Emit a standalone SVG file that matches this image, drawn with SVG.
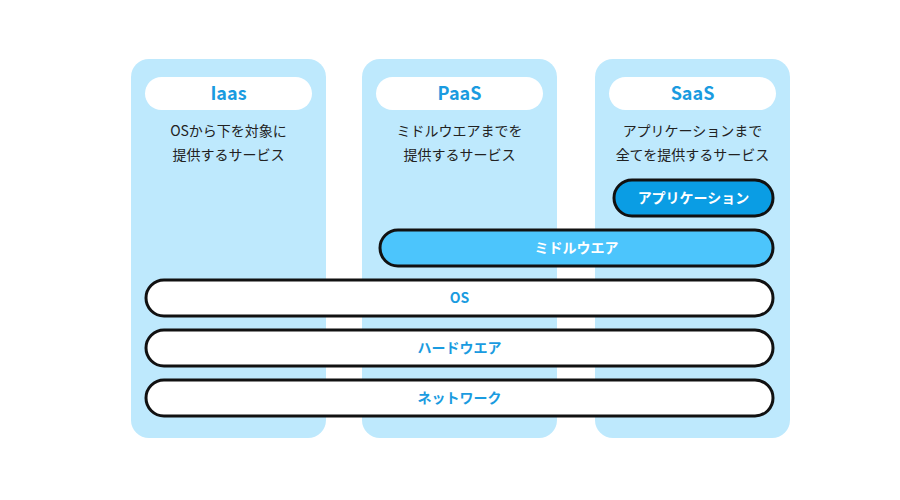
<svg xmlns="http://www.w3.org/2000/svg" width="900" height="500" viewBox="0 0 900 500">
<style>
.panel{fill:#bee9fd}
.pill{fill:#fff}
.title{font-family:"Noto Sans CJK JP","Noto Sans",sans-serif;font-weight:bold;font-size:18px;fill:#1a9be0;text-anchor:middle}
.desc{font-family:"Noto Sans CJK JP",sans-serif;font-size:14px;fill:#222;text-anchor:middle}
.bar{stroke:#111;stroke-width:3}
.lbl{font-family:"Noto Sans CJK JP",sans-serif;font-weight:bold;font-size:14px;text-anchor:middle}
</style>
<rect width="900" height="500" fill="#fff"/>
<g id="iaas"><rect class="panel" x="131" y="59" width="195" height="379" rx="18"/><rect class="pill" x="145" y="77" width="167" height="33" rx="16.5"/><text class="title" x="228.5" y="100">Iaas</text><text class="desc" x="228.5" y="136">OSから下を対象に</text><text class="desc" x="228.5" y="160">提供するサービス</text></g>
<g id="paas"><rect class="panel" x="362" y="59" width="195" height="379" rx="18"/><rect class="pill" x="376" y="77" width="167" height="33" rx="16.5"/><text class="title" x="459.5" y="100">PaaS</text><text class="desc" x="459.5" y="136">ミドルウエアまでを</text><text class="desc" x="459.5" y="160">提供するサービス</text></g>
<g id="saas"><rect class="panel" x="595" y="59" width="195" height="379" rx="18"/><rect class="pill" x="609" y="77" width="167" height="33" rx="16.5"/><text class="title" x="692.5" y="100">SaaS</text><text class="desc" x="692.5" y="136">アプリケーションまで</text><text class="desc" x="692.5" y="160">全てを提供するサービス</text></g>
<g id="app"><rect class="bar" x="614" y="180" width="159" height="36" rx="18" fill="#0a9de4"/><text class="lbl" x="693.5" y="203" fill="#fff">アプリケーション</text></g>
<g id="mw"><rect class="bar" x="380" y="230" width="393" height="36" rx="18" fill="#4cc5fc"/><text class="lbl" x="576.5" y="253" fill="#fff">ミドルウエア</text></g>
<g id="os"><rect class="bar" x="146" y="280" width="627" height="36" rx="18" fill="#fff"/><text class="lbl" x="459.5" y="303" fill="#1a9be0">OS</text></g>
<g id="hw"><rect class="bar" x="146" y="330" width="627" height="36" rx="18" fill="#fff"/><text class="lbl" x="459.5" y="353" fill="#1a9be0">ハードウエア</text></g>
<g id="nw"><rect class="bar" x="146" y="380" width="627" height="36" rx="18" fill="#fff"/><text class="lbl" x="459.5" y="403" fill="#1a9be0">ネットワーク</text></g>
<g id="connectors"/>
</svg>
